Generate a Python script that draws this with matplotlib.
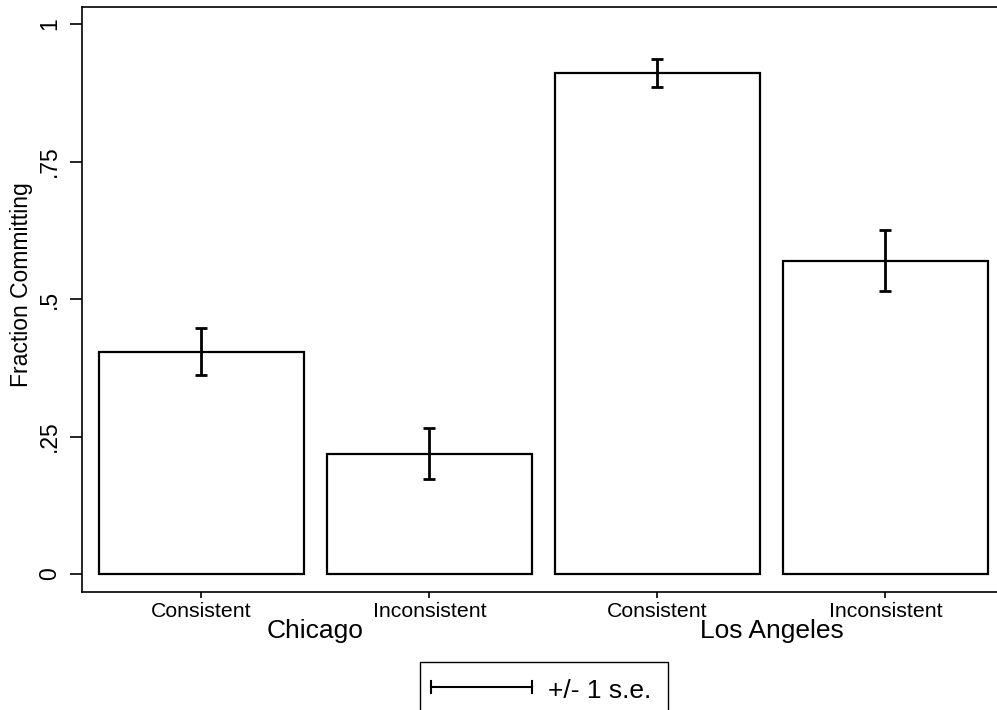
import numpy as np
import matplotlib
matplotlib.use("Agg")
import matplotlib.pyplot as plt
from matplotlib.patches import Rectangle
from matplotlib.lines import Line2D

plt.rcParams['font.family'] = ['Liberation Sans', 'DejaVu Sans']

# donnees
groupes = ["Chicago", "Los Angeles"]
conditions = ["Consistent", "Inconsistent"]
fractions = [0.404, 0.219, 0.911, 0.570]
erreurs = [0.0425, 0.0465, 0.025, 0.055]
yticks = [0, 0.25, 0.5, 0.75, 1]
yticklabels = ["0", ".25", ".5", ".75", "1"]

W, H = 997, 710
fig = plt.figure(figsize=(W / 100, H / 100), dpi=100)

def fx(px):
    return px / W

def fy(py):
    return 1 - py / H

# axes en pixels : gauche 82, droite 999, haut 7, bas 592
ax = fig.add_axes([fx(82), fy(592), fx(999) - fx(82), fy(7) - fy(592)])

x = np.arange(len(fractions))
ax.bar(x, fractions, width=0.9, color="white", edgecolor="black", linewidth=1.6)
ax.errorbar(x, fractions, yerr=erreurs, fmt="none", ecolor="black",
            elinewidth=2, capsize=4.5, capthick=2)

ax.set_xlim(-0.524, 3.498)
ax.set_ylim(-0.0327, 1.031)

ax.set_yticks(yticks)
ax.set_yticklabels(yticklabels, rotation=90, va="center", fontsize=16.5)
ax.tick_params(axis="y", length=9, width=1.2, pad=6)

ax.set_xticks(x)
ax.set_xticklabels(conditions * len(groupes), fontsize=15.3)
ax.tick_params(axis="x", length=4, width=1.2, pad=3)

for s in ax.spines.values():
    s.set_linewidth(1.2)

ax.set_ylabel("Fraction Committing", fontsize=16.5)
ax.yaxis.set_label_coords(-0.053, 0.525)

# etiquettes de groupe
for i, g in enumerate(groupes):
    centre = x[2 * i:2 * i + 2].mean()
    ax.text(centre, -0.0786, g, transform=ax.get_xaxis_transform(),
            ha="center", va="baseline", fontsize=19)

# legende faite a la main
fig.patches.append(Rectangle((fx(420), fy(720)), fx(668) - fx(420), fy(662) - fy(720),
                             transform=fig.transFigure, facecolor="white",
                             edgecolor="black", linewidth=1.0))
fig.lines.append(Line2D([fx(431), fx(532)], [fy(687), fy(687)],
                        transform=fig.transFigure, color="black", linewidth=1.5))
for xc in [431, 532]:
    fig.lines.append(Line2D([fx(xc), fx(xc)], [fy(681), fy(693)],
                            transform=fig.transFigure, color="black", linewidth=1.5))
fig.text(fx(548), fy(698), "+/- 1 s.e.", fontsize=19, ha="left", va="baseline")

plt.savefig("out.png", dpi=100)
